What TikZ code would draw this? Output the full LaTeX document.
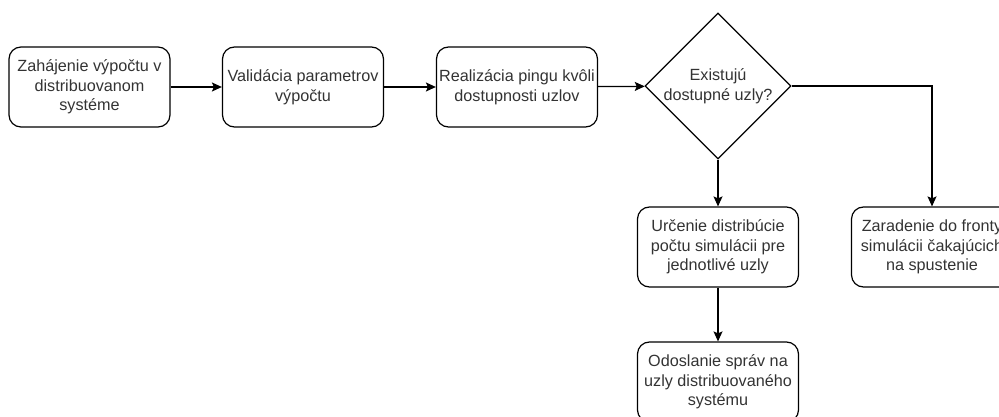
\documentclass[tikz,border=0pt]{standalone}
\usepackage{fontspec}
\setmainfont{Liberation Sans}
\usetikzlibrary{shapes.geometric,arrows.meta}
\begin{document}
\begin{tikzpicture}[x=1pt,y=-1pt,
  stepbox/.style={draw, line width=1.2pt, rounded corners=12pt,
    minimum width=161pt, minimum height=80pt, align=center,
    font=\fontsize{16.2}{19.5}\selectfont, text=black!80, inner sep=1pt},
  decide/.style={draw, diamond, line width=1.2pt, minimum width=146pt,
    minimum height=146pt, aspect=1, align=center, inner sep=0pt,
    font=\fontsize{16.2}{19.5}\selectfont, text=black!80},
  flow/.style={line width=1.2pt, -{Stealth[length=10pt,width=9pt,inset=2pt]}}]
\useasboundingbox (0,0) rectangle (999,417);
\clip (0,0) rectangle (999,417);
\node[stepbox] (start) at (89.5,87) {Zahájenie výpočtu v\\distribuovanom\\systéme};
\node[stepbox] (valid) at (303,87) {Validácia parametrov\\výpočtu};
\node[stepbox] (ping) at (517,87) {Realizácia pingu kvôli\\dostupnosti uzlov};
\node[decide] (any) at (718,86) {Existujú\\dostupné uzly?};
\node[stepbox] (split) at (718,247) {Určenie distribúcie\\počtu simulácii pre\\jednotlivé uzly};
\node[stepbox] (queue) at (932,247) {Zaradenie do fronty\\simulácii čakajúcich\\na spustenie};
\node[stepbox] (send) at (718,382) {Odoslanie správ na\\uzly distribuovaného\\systému};
\draw[flow] (start) -- (valid);
\draw[flow] (valid) -- (ping);
\draw[flow] (ping) -- (any);
\draw[flow] (any) -- (split);
\draw[flow] (any.east) -| (queue.north);
\draw[flow] (split) -- (send);
\end{tikzpicture}
\end{document}
